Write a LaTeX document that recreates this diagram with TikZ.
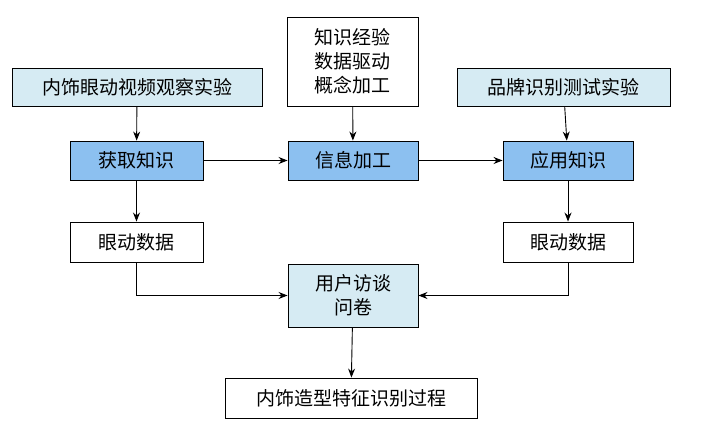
\documentclass[tikz,border=0pt]{standalone}
\usepackage{fontspec}
\setmainfont{Noto Sans CJK SC}
\usetikzlibrary{arrows.meta}
\definecolor{lightbox}{HTML}{D6EBF3}
\definecolor{darkbox}{HTML}{8CC0F0}
\tikzset{
  box/.style={draw, line width=0.9pt, inner sep=0pt, align=center,
    font=\fontsize{19}{24}\selectfont},
  arr/.style={-{Stealth[length=9pt,width=7pt]}, line width=0.9pt}
}
\begin{document}
\begin{tikzpicture}[x=1pt,y=-1pt]
\useasboundingbox (0,0) rectangle (703,435);
% top row
\node[box, fill=lightbox, minimum width=250pt, minimum height=38pt] (exp1) at (137,87) {内饰眼动视频观察实验};
\node[box, fill=white, minimum width=131pt, minimum height=89pt] (know) at (352.5,61.5) {知识经验\\数据驱动\\概念加工};
\node[box, fill=lightbox, minimum width=213pt, minimum height=38pt] (exp2) at (563.5,87) {品牌识别测试实验};
% middle row
\node[box, fill=darkbox, minimum width=133pt, minimum height=39pt] (get) at (136.5,160.5) {获取知识};
\node[box, fill=darkbox, minimum width=130pt, minimum height=39pt] (proc) at (353,160.5) {信息加工};
\node[box, fill=darkbox, minimum width=130pt, minimum height=39pt] (use) at (568,160.5) {应用知识};
% data
\node[box, fill=white, minimum width=133pt, minimum height=40pt] (eyeL) at (136.5,242) {眼动数据};
\node[box, fill=white, minimum width=130pt, minimum height=40pt] (eyeR) at (568,242) {眼动数据};
\node[box, fill=lightbox, minimum width=130pt, minimum height=63pt] (user) at (353,295.5) {用户访谈\\问卷};
% result
\node[box, fill=white, minimum width=252pt, minimum height=40pt] (res) at (351,398) {内饰造型特征识别过程};
% arrows
\draw[arr] (exp1) -- (get);
\draw[arr] (know) -- (proc);
\draw[arr] (exp2) -- (use);
\draw[arr] (get) -- (proc);
\draw[arr] (proc) -- (use);
\draw[arr] (get) -- (eyeL);
\draw[arr] (use) -- (eyeR);
\draw[arr] (eyeL.south) |- (user.west);
\draw[arr] (eyeR.south) |- (user.east);
\draw[arr] (user) -- (res);
\end{tikzpicture}
\end{document}
